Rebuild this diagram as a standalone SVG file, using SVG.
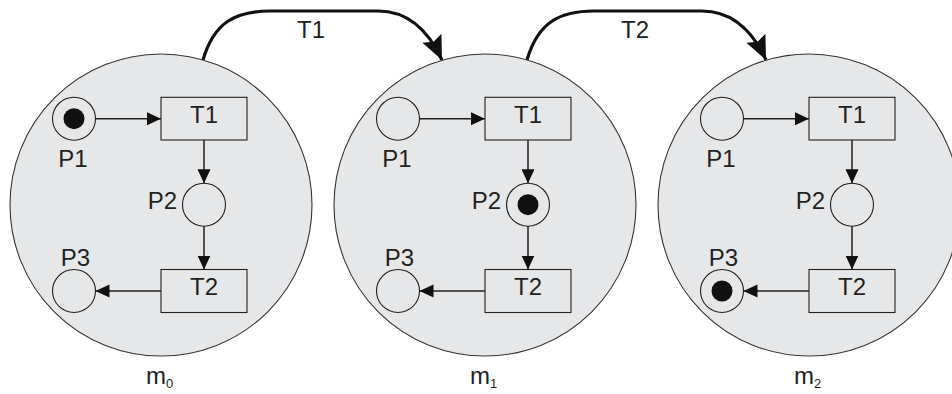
<svg xmlns="http://www.w3.org/2000/svg" width="952" height="394" viewBox="0 0 952 394">
  <style>
    .state { fill: #e6e7e8; stroke: #333333; stroke-width: 1.1; }
    .place { fill: none; stroke: #231f20; stroke-width: 1.1; }
    .trans { fill: none; stroke: #231f20; stroke-width: 1.1; }
    .token { fill: #111111; }
    .arc { fill: none; stroke: #231f20; stroke-width: 1.5; marker-end: url(#head); }
    .fire { fill: none; stroke: #111111; stroke-width: 3.2; marker-end: url(#bighead); }
    text { font-family: "Liberation Sans", Arial, sans-serif; fill: #231f20; }
    .lbl { font-size: 24px; }
    .sub { font-size: 13px; }
  </style>
  <defs>
    <marker id="head" markerUnits="userSpaceOnUse" markerWidth="15" markerHeight="14" refX="14" refY="6.5" orient="auto">
      <path d="M0,0 L14,6.5 L0,13 z" fill="#111111"/>
    </marker>
    <marker id="bighead" markerUnits="userSpaceOnUse" markerWidth="26" markerHeight="22" refX="24" refY="10.5" orient="auto">
      <path d="M0,0 L24,10.5 L0,21 L4,10.5 z" fill="#111111"/>
    </marker>
  </defs>

  <!-- firing connectors between markings -->
  <g id="firings">
    <path class="fire" d="M203,60 C214,22 236,11 270,11 L378,11 C410,11 429,32 442,60"/>
    <text class="lbl" x="311" y="38" text-anchor="middle">T1</text>
    <path class="fire" d="M527,60 C538,22 560,11 594,11 L702,11 C734,11 753,32 766,60"/>
    <text class="lbl" x="635" y="38" text-anchor="middle">T2</text>
  </g>

  <!-- marking m0 -->
  <g id="m0" transform="translate(0,0)">
    <circle class="state" cx="161" cy="205" r="151"/>
    <g id="m0-P1"><circle class="place" cx="74" cy="118.7" r="21.5"/><circle class="token" cx="74" cy="118.7" r="10.5"/><text class="lbl" x="73" y="166.5" text-anchor="middle">P1</text></g>
    <g id="m0-T1"><rect class="trans" x="161" y="97.3" width="86" height="42.7"/><text class="lbl" x="204" y="122.7" text-anchor="middle">T1</text></g>
    <g id="m0-P2"><circle class="place" cx="204" cy="204.7" r="21.5"/><text class="lbl" x="177" y="209" text-anchor="end">P2</text></g>
    <g id="m0-T2"><rect class="trans" x="161" y="269.5" width="86" height="43"/><text class="lbl" x="204" y="295" text-anchor="middle">T2</text></g>
    <g id="m0-P3"><circle class="place" cx="74" cy="291" r="21.5"/><text class="lbl" x="75.5" y="266" text-anchor="middle">P3</text></g>
    <g id="m0-arcs">
      <line class="arc" x1="95.5" y1="118.7" x2="161" y2="118.7"/>
      <line class="arc" x1="204" y1="140" x2="204" y2="183.2"/>
      <line class="arc" x1="204" y1="226.2" x2="204" y2="269.5"/>
      <line class="arc" x1="161" y1="291" x2="95.5" y2="291"/>
    </g>
    <text class="lbl" x="146" y="384" font-size="25">m<tspan class="sub" dy="4">0</tspan></text>
  </g>

  <!-- marking m1 -->
  <g id="m1" transform="translate(324,0)">
    <circle class="state" cx="161" cy="205" r="151"/>
    <g id="m1-P1"><circle class="place" cx="74" cy="118.7" r="21.5"/><text class="lbl" x="73" y="166.5" text-anchor="middle">P1</text></g>
    <g id="m1-T1"><rect class="trans" x="161" y="97.3" width="86" height="42.7"/><text class="lbl" x="204" y="122.7" text-anchor="middle">T1</text></g>
    <g id="m1-P2"><circle class="place" cx="204" cy="204.7" r="21.5"/><circle class="token" cx="204" cy="204.7" r="10.5"/><text class="lbl" x="177" y="209" text-anchor="end">P2</text></g>
    <g id="m1-T2"><rect class="trans" x="161" y="269.5" width="86" height="43"/><text class="lbl" x="204" y="295" text-anchor="middle">T2</text></g>
    <g id="m1-P3"><circle class="place" cx="74" cy="291" r="21.5"/><text class="lbl" x="75.5" y="266" text-anchor="middle">P3</text></g>
    <g id="m1-arcs">
      <line class="arc" x1="95.5" y1="118.7" x2="161" y2="118.7"/>
      <line class="arc" x1="204" y1="140" x2="204" y2="183.2"/>
      <line class="arc" x1="204" y1="226.2" x2="204" y2="269.5"/>
      <line class="arc" x1="161" y1="291" x2="95.5" y2="291"/>
    </g>
    <text class="lbl" x="146" y="384" font-size="25">m<tspan class="sub" dy="4">1</tspan></text>
  </g>

  <!-- marking m2 -->
  <g id="m2" transform="translate(648,0)">
    <circle class="state" cx="161" cy="205" r="151"/>
    <g id="m2-P1"><circle class="place" cx="74" cy="118.7" r="21.5"/><text class="lbl" x="73" y="166.5" text-anchor="middle">P1</text></g>
    <g id="m2-T1"><rect class="trans" x="161" y="97.3" width="86" height="42.7"/><text class="lbl" x="204" y="122.7" text-anchor="middle">T1</text></g>
    <g id="m2-P2"><circle class="place" cx="204" cy="204.7" r="21.5"/><text class="lbl" x="177" y="209" text-anchor="end">P2</text></g>
    <g id="m2-T2"><rect class="trans" x="161" y="269.5" width="86" height="43"/><text class="lbl" x="204" y="295" text-anchor="middle">T2</text></g>
    <g id="m2-P3"><circle class="place" cx="74" cy="291" r="21.5"/><circle class="token" cx="74" cy="291" r="10.5"/><text class="lbl" x="75.5" y="266" text-anchor="middle">P3</text></g>
    <g id="m2-arcs">
      <line class="arc" x1="95.5" y1="118.7" x2="161" y2="118.7"/>
      <line class="arc" x1="204" y1="140" x2="204" y2="183.2"/>
      <line class="arc" x1="204" y1="226.2" x2="204" y2="269.5"/>
      <line class="arc" x1="161" y1="291" x2="95.5" y2="291"/>
    </g>
    <text class="lbl" x="146" y="384" font-size="25">m<tspan class="sub" dy="4">2</tspan></text>
  </g>
</svg>
